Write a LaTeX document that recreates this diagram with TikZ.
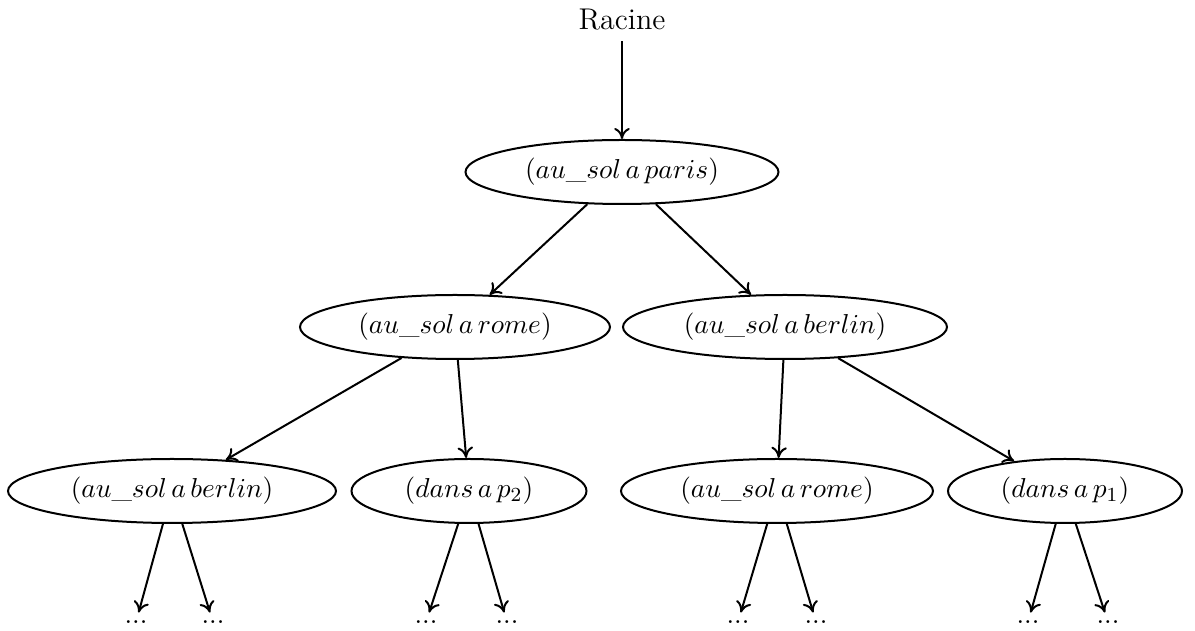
\documentclass[tikz,border=0pt]{standalone}
\usetikzlibrary{shapes.geometric,arrows.meta}
\begin{document}
\begin{tikzpicture}[x=0.4pt,y=-0.4pt,
  every node/.style={font=\fontsize{10.9}{13}\selectfont},
  state/.style={ellipse,draw,line width=0.8pt,minimum height=25.6pt,inner sep=0pt,outer sep=0.4pt},
  dotsnode/.style={inner sep=3pt},
  arr/.style={-{To[length=4.4pt,width=6.2pt]},line width=0.8pt}]
\useasboundingbox (0,0) rectangle (1195,631);
\node[inner sep=4pt,font=\fontsize{12}{14}\selectfont] (racine) at (622,20) {Racine};
\node[state,minimum width=125.2pt] (root) at (622,172) {$(au\_sol\,a\,paris)$};
\node[state,minimum width=124pt] (a) at (455,327) {$(au\_sol\,a\,rome)$};
\node[state,minimum width=129.6pt] (b) at (785,327) {$(au\_sol\,a\,berlin)$};
\node[state,minimum width=131.2pt] (aa) at (172,491) {$(au\_sol\,a\,berlin)$};
\node[state,minimum width=94pt] (ab) at (469,491) {$(dans\,a\,p_2)$};
\node[state,minimum width=124.8pt] (ba) at (777,491) {$(au\_sol\,a\,rome)$};
\node[state,minimum width=93.6pt] (bb) at (1065,491) {$(dans\,a\,p_1)$};
\node[dotsnode] (d1) at (136,622) {...};
\node[dotsnode] (d2) at (213,622) {...};
\node[dotsnode] (d3) at (426,622) {...};
\node[dotsnode] (d4) at (507,622) {...};
\node[dotsnode] (d5) at (738,622) {...};
\node[dotsnode] (d6) at (816,622) {...};
\node[dotsnode] (d7) at (1028,622) {...};
\node[dotsnode] (d8) at (1108,622) {...};
\draw[arr] (racine) -- (root);
\draw[arr] (root) -- (a);
\draw[arr] (root) -- (b);
\draw[arr] (a) -- (aa);
\draw[arr] (a) -- (ab);
\draw[arr] (b) -- (ba);
\draw[arr] (b) -- (bb);
\draw[arr] (aa) -- (d1);
\draw[arr] (aa) -- (d2);
\draw[arr] (ab) -- (d3);
\draw[arr] (ab) -- (d4);
\draw[arr] (ba) -- (d5);
\draw[arr] (ba) -- (d6);
\draw[arr] (bb) -- (d7);
\draw[arr] (bb) -- (d8);
\end{tikzpicture}
\end{document}
